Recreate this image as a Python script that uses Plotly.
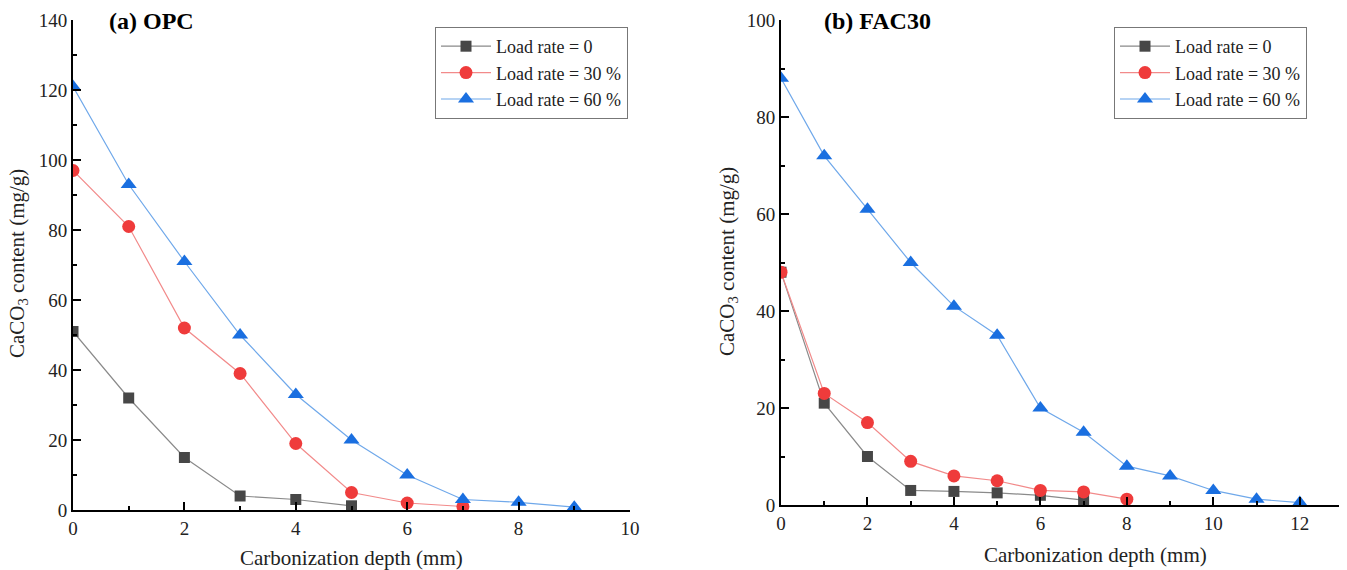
import plotly.graph_objects as go

# ---- data (a) OPC ----
a_x0 = [0, 1, 2, 3, 4, 5]
a_y0 = [51, 32, 15, 4, 3, 1.2]
a_x30 = [0, 1, 2, 3, 4, 5, 6, 7]
a_y30 = [97, 81, 52, 39, 19, 5, 2, 1]
a_x60 = [0, 1, 2, 3, 4, 5, 6, 7, 8, 9]
a_y60 = [121, 93, 71, 50, 33, 20, 10, 3, 2.2, 0.8]

# ---- data (b) FAC30 ----
b_x0 = [0, 1, 2, 3, 4, 5, 6, 7]
b_y0 = [48, 21, 10, 3, 2.8, 2.5, 2, 1]
b_x30 = [0, 1, 2, 3, 4, 5, 6, 7, 8]
b_y30 = [48, 23, 17, 9, 6, 5, 3, 2.7, 1.2]
b_x60 = [0, 1, 2, 3, 4, 5, 6, 7, 8, 9, 10, 11, 12]
b_y60 = [88, 72, 61, 50, 41, 35, 20, 15, 8, 6, 3, 1.2, 0.5]

names = ["Load rate = 0", "Load rate = 30 %", "Load rate = 60 %"]
panel_titles = ["(a) OPC", "(b) FAC30"]
x_title = "Carbonization depth (mm)"
y_title = "CaCO<sub>3</sub> content (mg/g)"

line_colors = ["#8a8a8a", "#f28a8a", "#6fa8ea"]
marker_colors = ["#474747", "#ef3b3b", "#1a6fe0"]
symbols = ["square", "circle", "triangle-up"]
msizes = [11, 13, 14]

FONT = "Liberation Serif, Times New Roman, DejaVu Serif, serif"

W, H = 1347, 570
OX, OY = 8, 8  # page body margin offset


def px(x):
    return (x - OX) / W


def py(y):
    return 1 - (y - OY) / H


fig = go.Figure()

panels = [
    ([a_x0, a_x30, a_x60], [a_y0, a_y30, a_y60], "x", "y", "legend"),
    ([b_x0, b_x30, b_x60], [b_y0, b_y30, b_y60], "x2", "y2", "legend2"),
]
for xs, ys, xa, ya, lg in panels:
    for i in range(3):
        fig.add_trace(go.Scatter(
            x=xs[i], y=ys[i], mode="lines+markers", name=names[i],
            xaxis=xa, yaxis=ya, legend=lg,
            line=dict(color=line_colors[i], width=1.2),
            marker=dict(symbol=symbols[i], size=msizes[i], color=marker_colors[i],
                        line=dict(width=0)),
        ))

axis_common = dict(
    showline=True, linecolor="black", linewidth=2, mirror=False,
    showgrid=False, zeroline=False, automargin=False,
    ticks="inside", ticklen=8, tickwidth=2, tickcolor="black",
    tickfont=dict(family=FONT, size=19, color="#222"),
    minor=dict(ticks="inside", ticklen=4, tickwidth=2, tickcolor="black"),
)

legend_common = dict(
    xanchor="left", yanchor="top",
    bgcolor="white", bordercolor="#777", borderwidth=1,
    font=dict(family=FONT, size=18, color="#222"),
    tracegroupgap=0, itemwidth=50,
)

fig.update_layout(
    width=W, height=H,
    margin=dict(l=0, r=0, t=0, b=0, autoexpand=False),
    plot_bgcolor="white", paper_bgcolor="white",
    font=dict(family=FONT, size=18, color="#222"),
    xaxis=dict(domain=[px(73), px(630)], range=[0, 10], dtick=2,
               minor_dtick=1, anchor="y", **axis_common),
    yaxis=dict(domain=[py(510), py(20)], range=[0, 140], dtick=20,
               minor_dtick=10, anchor="x", **axis_common),
    xaxis2=dict(domain=[px(781), px(1343)], range=[0, 13], dtick=2,
                minor_dtick=1, anchor="y2", **axis_common),
    yaxis2=dict(domain=[py(505), py(20)], range=[0, 100], dtick=20,
                minor_dtick=10, anchor="x2", **axis_common),
    legend=dict(x=px(435), y=py(27), **legend_common),
    legend2=dict(x=px(1114), y=py(27), **legend_common),
    showlegend=True,
)

annotations = [
    dict(text="<b>" + panel_titles[0] + "</b>", x=px(107), y=py(21), xref="paper", yref="paper",
         xanchor="left", yanchor="middle", showarrow=False, font=dict(family=FONT, size=24, color="black")),
    dict(text="<b>" + panel_titles[1] + "</b>", x=px(822), y=py(21), xref="paper", yref="paper",
         xanchor="left", yanchor="middle", showarrow=False, font=dict(family=FONT, size=24, color="black")),
    dict(text=x_title, x=px(351), y=py(558), xref="paper", yref="paper",
         xanchor="center", yanchor="middle", showarrow=False, font=dict(family=FONT, size=21, color="#222")),
    dict(text=x_title, x=px(1095), y=py(555), xref="paper", yref="paper",
         xanchor="center", yanchor="middle", showarrow=False, font=dict(family=FONT, size=21, color="#222")),
    dict(text=y_title, x=px(18), y=py(264), xref="paper", yref="paper", textangle=-90,
         xanchor="center", yanchor="middle", showarrow=False, font=dict(family=FONT, size=21, color="#222")),
    dict(text=y_title, x=px(728), y=py(262), xref="paper", yref="paper", textangle=-90,
         xanchor="center", yanchor="middle", showarrow=False, font=dict(family=FONT, size=21, color="#222")),
]
fig.update_layout(annotations=annotations)

fig.write_html("out.html")
